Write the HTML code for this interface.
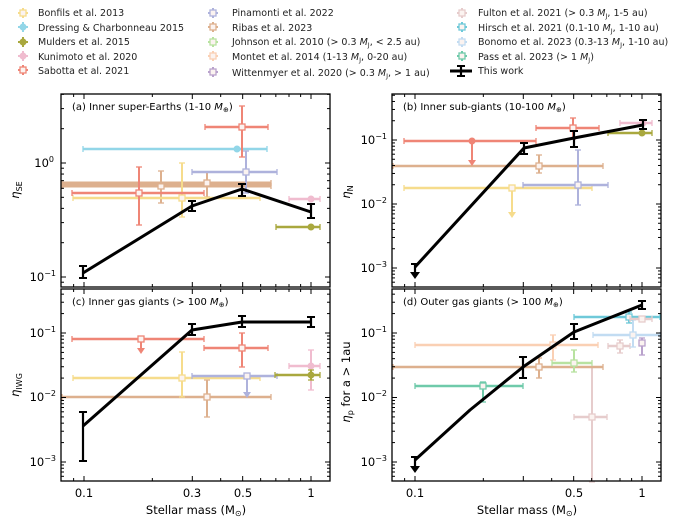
<!DOCTYPE html>
<html><head><meta charset="utf-8"><style>
body{margin:0;background:#fff;}
svg{display:block;font-family:"DejaVu Sans","Liberation Sans",sans-serif;}
</style></head><body>
<svg id="s" width="674" height="526" viewBox="0 0 674 526" xmlns="http://www.w3.org/2000/svg">
<g id="data"></g>
<g id="frames" fill="none" stroke="#000" stroke-width="1.3">
<rect x="61" y="94" width="269" height="193"/>
<rect x="392" y="94" width="269" height="193"/>
<rect x="61" y="289" width="269" height="192"/>
<rect x="392" y="289" width="269" height="192"/>
</g>
<g font-size="10" fill="#000">
<text x="72" y="110">(a) Inner super-Earths (1-10 <tspan font-style="italic">M</tspan><tspan font-size="7" dy="2">⊕</tspan><tspan dy="-2">)</tspan></text>
<text x="403" y="110">(b) Inner sub-giants (10-100 <tspan font-style="italic">M</tspan><tspan font-size="7" dy="2">⊕</tspan><tspan dy="-2">)</tspan></text>
<text x="72" y="305">(c) Inner gas giants (&gt; 100 <tspan font-style="italic">M</tspan><tspan font-size="7" dy="2">⊕</tspan><tspan dy="-2">)</tspan></text>
<text x="403" y="305">(d) Outer gas giants (&gt; 100 <tspan font-style="italic">M</tspan><tspan font-size="7" dy="2">⊕</tspan><tspan dy="-2">)</tspan></text>
</g>
<g font-size="11.5" fill="#000" text-anchor="end">
<text x="54" y="167">10<tspan font-size="8" dy="-5">0</tspan></text>
<text x="56" y="281">10<tspan font-size="8" dy="-5">−1</tspan></text>
<text x="387" y="144">10<tspan font-size="8" dy="-5">−1</tspan></text>
<text x="387" y="208">10<tspan font-size="8" dy="-5">−2</tspan></text>
<text x="387" y="272">10<tspan font-size="8" dy="-5">−3</tspan></text>
<text x="56" y="337">10<tspan font-size="8" dy="-5">−1</tspan></text>
<text x="56" y="401">10<tspan font-size="8" dy="-5">−2</tspan></text>
<text x="56" y="466">10<tspan font-size="8" dy="-5">−3</tspan></text>
<text x="387" y="337">10<tspan font-size="8" dy="-5">−1</tspan></text>
<text x="387" y="401">10<tspan font-size="8" dy="-5">−2</tspan></text>
<text x="387" y="466">10<tspan font-size="8" dy="-5">−3</tspan></text>
</g>
<g font-size="11.5" fill="#000" text-anchor="middle">
<text x="84" y="497">0.1</text><text x="192" y="497">0.3</text><text x="243" y="497">0.5</text><text x="311" y="497">1</text>
<text x="415" y="497">0.1</text><text x="574" y="497">0.5</text><text x="642" y="497">1</text>
<text x="196" y="514">Stellar mass (M<tspan font-size="8" dy="2">⊙</tspan><tspan dy="-2">)</tspan></text>
<text x="527" y="514">Stellar mass (M<tspan font-size="8" dy="2">⊙</tspan><tspan dy="-2">)</tspan></text>
<text transform="translate(19,190) rotate(-90)"><tspan font-style="italic">η</tspan><tspan font-size="8" dy="3">SE</tspan></text>
<text transform="translate(350,192) rotate(-90)"><tspan font-style="italic">η</tspan><tspan font-size="8" dy="3">N</tspan></text>
<text transform="translate(19,385) rotate(-90)"><tspan font-style="italic">η</tspan><tspan font-size="8" dy="3">IWG</tspan></text>
<text transform="translate(350,382) rotate(-90)"><tspan font-style="italic">η</tspan><tspan font-size="8" dy="3">p</tspan><tspan dy="-3"> for a &gt; 1au</tspan></text>
</g>
<g id="leg"></g>
<g font-size="9.5" fill="#222">
<text x="38" y="16">Bonfils et al. 2013</text>
<text x="38" y="31">Dressing &amp; Charbonneau 2015</text>
<text x="38" y="45">Mulders et al. 2015</text>
<text x="38" y="60">Kunimoto et al. 2020</text>
<text x="38" y="74">Sabotta et al. 2021</text>
<text x="232" y="16">Pinamonti et al. 2022</text>
<text x="232" y="31">Ribas et al. 2023</text>
<text x="232" y="45">Johnson et al. 2010 (&gt; 0.3 <tspan font-style="italic">M</tspan><tspan font-size="6.5" dy="2">J</tspan><tspan dy="-2">, &lt; 2.5 au)</tspan></text>
<text x="232" y="60">Montet et al. 2014 (1-13 <tspan font-style="italic">M</tspan><tspan font-size="6.5" dy="2">J</tspan><tspan dy="-2">, 0-20 au)</tspan></text>
<text x="232" y="76">Wittenmyer et al. 2020 (&gt; 0.3 <tspan font-style="italic">M</tspan><tspan font-size="6.5" dy="2">J</tspan><tspan dy="-2">, &gt; 1 au)</tspan></text>
<text x="478" y="16">Fulton et al. 2021 (&gt; 0.3 <tspan font-style="italic">M</tspan><tspan font-size="6.5" dy="2">J</tspan><tspan dy="-2">, 1-5 au)</tspan></text>
<text x="478" y="31">Hirsch et al. 2021 (0.1-10 <tspan font-style="italic">M</tspan><tspan font-size="6.5" dy="2">J</tspan><tspan dy="-2">, 1-10 au)</tspan></text>
<text x="478" y="45">Bonomo et al. 2023 (0.3-13 <tspan font-style="italic">M</tspan><tspan font-size="6.5" dy="2">J</tspan><tspan dy="-2">, 1-10 au)</tspan></text>
<text x="478" y="60">Pass et al. 2023 (&gt; 1 <tspan font-style="italic">M</tspan><tspan font-size="6.5" dy="2">J</tspan><tspan dy="-2">)</tspan></text>
<text x="478" y="74">This work</text>
</g>
</svg>
<script>
var NS="http://www.w3.org/2000/svg",D=document.getElementById("data"),L=document.getElementById("leg"),F=document.getElementById("frames");
function el(p,t,a){var e=document.createElementNS(NS,t);for(var k in a)e.setAttribute(k,a[k]);p.appendChild(e);return e;}
function ln(p,x1,y1,x2,y2,c,w){el(p,"line",{x1:x1,y1:y1,x2:x2,y2:y2,stroke:c,"stroke-width":w});}
var C={bon:"#f6dc8c",dre:"#92d6e8",mul:"#a9a83e",kun:"#f0bccf",sab:"#ef8576",pin:"#aeb2dc",rib:"#ddb08e",joh:"#b8e2a0",mon:"#fad0b4",wit:"#b9a2cc",ful:"#e6cccc",hir:"#6fc9d9",bnm:"#c2dcf2",pas:"#6fcaaa"};
function m(p,x,y,c,sh,s){s=s||3;if(sh=="c")el(p,"circle",{cx:x,cy:y,r:s,fill:c,stroke:c});else el(p,"rect",{x:x-s,y:y-s,width:2*s,height:2*s,fill:"#fbf3f0",stroke:c,"stroke-width":1.3});}
function eb(x,y,x1,x2,y1,y2,c,sh,w,ul){w=w||2.5;
 if(x1!=null){ln(D,x1,y,x2,y,c,w);ln(D,x1,y-3,x1,y+3,c,1.3);ln(D,x2,y-3,x2,y+3,c,1.3);}
 if(ul){ln(D,x,y,x,ul-4,c,2);el(D,"polygon",{points:(x-4)+","+(ul-5)+" "+(x+4)+","+(ul-5)+" "+x+","+(ul+1),fill:c});}
 else if(y1!=null){ln(D,x,y1,x,y2,c,2);ln(D,x-3,y1,x+3,y1,c,1.3);ln(D,x-3,y2,x+3,y2,c,1.3);}
 m(D,x,y,c,sh);}
// panel a
eb(161,186,62,271,171,203,C.rib,"s",3);
eb(207,183,62,271,172,197,C.rib,"s",3);
eb(182,198,73,260,163,217,C.bon,"s");
eb(139,193,72,204,167,225,C.sab,"s");
eb(237,149,83,267,null,null,C.dre,"c");
eb(246,172,192,277,151,193,C.pin,"s");
eb(242,127,205,268,106,157,C.sab,"s");
eb(311,199,289,320,null,null,C.kun,"c");
eb(311,227,276,320,null,null,C.mul,"c");
// panel b
eb(539,166,393,603,155,173,C.rib,"s");
eb(512,188,404,592,null,null,C.bon,"s",2.5,217);
eb(578,185,523,608,150,205,C.pin,"s");
eb(472,141,404,536,null,null,C.sab,"c",2.5,165);
eb(573,128,536,599,118,139,C.sab,"s");
eb(643,123,620,652,null,null,C.kun,"c");
eb(642,133,608,652,null,null,C.mul,"c");
// panel c
eb(207,397,62,271,380,417,C.rib,"s");
eb(182,378,73,260,352,397,C.bon,"s");
eb(247,376,192,277,null,null,C.pin,"s",2.5,397);
eb(141,339,72,204,null,null,C.sab,"s",2.5,353);
eb(242,348,204,268,333,367,C.sab,"s");
eb(311,366,289,320,350,390,C.kun,"c");
eb(311,375,275,320,370,380,C.mul,"c");
// panel d
eb(592,417,574,607,367,482,C.ful,"s");
eb(539,367,393,603,358,378,C.rib,"s");
eb(553,345,415,598,335,360,C.mon,"s");
eb(574,363,552,592,350,372,C.joh,"s");
eb(483,386,415,523,382,402,C.pas,"s");
eb(620,346,608,630,340,353,C.ful,"s");
eb(633,335,593,660,320,347,C.bnm,"s");
eb(629,317,574,660,312,323,C.hir,"s");
eb(642,319,630,652,null,null,C.ful,"s");
eb(642,343,null,null,338,355,C.wit,"s");
// this work
function tw(pts,errs,ul){el(D,"polyline",{points:pts.map(function(p){return p.join(",")}).join(" "),fill:"none",stroke:"#000","stroke-width":3,"stroke-linejoin":"round"});
 errs.forEach(function(e){ln(D,e[0],e[1],e[0],e[2],"#000",2.2);ln(D,e[0]-4,e[1],e[0]+4,e[1],"#000",2);ln(D,e[0]-4,e[2],e[0]+4,e[2],"#000",2);});
 if(ul){ln(D,ul[0],ul[1]-3,ul[0],ul[2]-4,"#000",2.2);ln(D,ul[0]-4,ul[1]-3,ul[0]+4,ul[1]-3,"#000",2);el(D,"polygon",{points:(ul[0]-5)+","+(ul[2]-6)+" "+(ul[0]+5)+","+(ul[2]-6)+" "+ul[0]+","+(ul[2]+1),fill:"#000"});}}
tw([[83,273],[192,206],[242,189],[311,212]],[[83,266,278],[192,201,211],[242,184,196],[311,204,218]]);
tw([[415,267],[524,148],[574,138],[643,125]],[[524,143,154],[574,131,147],[643,120,129]],[415,267,278]);
tw([[83,426],[192,330],[242,322],[311,322]],[[83,412,461],[192,324,335],[242,316,327],[311,317,327]]);
tw([[415,460],[470,410],[523,367],[574,332],[642,305]],[[523,357,378],[574,324,339],[642,301,309]],[415,460,472]);
// ticks
var xs=[0.09,0.1,0.2,0.3,0.4,0.5,0.6,0.7,0.8,0.9,1];
function ticks(x0,x1,y0,y1,xo,yd0,ypd){
 xs.forEach(function(v){var x=xo+227*(Math.log10(v)+1);if(x<x0||x>x1)return;var maj=[0.1,0.3,0.5,1].indexOf(v)>=0,l=maj?5:3;
  ln(F,x,y1,x,y1-l,"#000",1);ln(F,x,y0,x,y0+l,"#000",1);});
 for(var d=-4;d<=1;d++)for(var k=1;k<10;k++){var y=yd0-ypd*(d+Math.log10(k));if(y<y0||y>y1)continue;var l=k==1?5:3;
  ln(F,x0,y,x0+l,y,"#000",1);ln(F,x1,y,x1-l,y,"#000",1);}}
ticks(61,330,94,287,84,163,114);
ticks(392,661,94,287,415,140+64,64);
ticks(61,330,289,481,84,333+64.5,64.5);
ticks(392,661,289,481,415,333+64.5,64.5);
// legend markers
var lg=[[23,13,C.bon,"s"],[23,27,C.dre,"c"],[23,42,C.mul,"c"],[23,56,C.kun,"c"],[23,70,C.sab,"s"],
[213,13,C.pin,"s"],[213,27,C.rib,"s"],[213,42,C.joh,"s"],[213,56,C.mon,"s"],[213,72,C.wit,"s"],
[462,13,C.ful,"s"],[462,27,C.hir,"s"],[462,42,C.bnm,"s"],[462,56,C.pas,"s"]];
lg.forEach(function(a){ln(L,a[0]-5,a[1],a[0]+5,a[1],a[2],2);ln(L,a[0],a[1]-5,a[0],a[1]+5,a[2],2);m(L,a[0],a[1],a[2],a[3]);});
ln(L,450,71,472,71,"#000",3);ln(L,461,66,461,76,"#000",2.2);ln(L,457,66,465,66,"#000",2);ln(L,457,76,465,76,"#000",2);
</script>
</body></html>
